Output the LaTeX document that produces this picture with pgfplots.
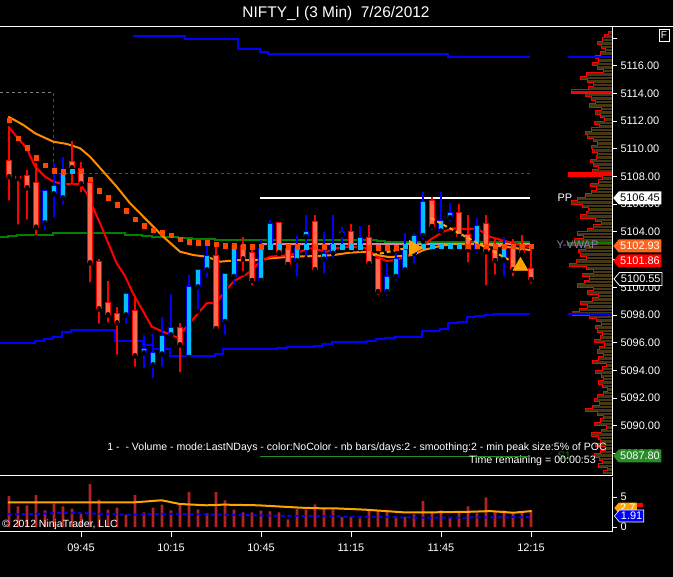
\documentclass[border=0pt]{standalone}
\usepackage{fontspec}
\setmainfont{Liberation Sans}
\usepackage{pgfplots}
\pgfplotsset{compat=1.18}
\usepackage{pgfplotstable}
\usetikzlibrary{shapes.symbols}

\definecolor{upfill}{RGB}{0,191,255}
\definecolor{upline}{RGB}{0,0,255}
\definecolor{dnfill}{RGB}{255,105,80}
\definecolor{dnline}{RGB}{255,0,0}
\definecolor{sar}{RGB}{255,69,0}
\definecolor{maorange}{RGB}{255,140,0}
\definecolor{vwapgreen}{RGB}{0,128,0}
\definecolor{yvwap}{RGB}{230,120,170}
\definecolor{volbar}{RGB}{178,34,34}
\definecolor{prof}{RGB}{70,56,20}
\definecolor{flagorange}{RGB}{255,100,30}
\definecolor{flaggreen}{RGB}{40,140,40}
\definecolor{trend}{RGB}{255,165,0}

% up candles: time in minutes after 9:00
\pgfplotstableread{
t o h l c
33 5104.69 5106.93 5104.01 5106.93
36 5106.79 5108.95 5104.91 5107.29
39 5106.50 5109.39 5105.82 5108.09
60 5098.05 5099.50 5097.23 5099.50
66 5095.31 5096.53 5094.03 5095.52
69 5094.44 5096.63 5093.31 5095.23
72 5095.23 5097.83 5094.12 5096.48
75 5096.61 5099.54 5096.43 5097.04
81 5094.97 5100.89 5094.97 5100.04
84 5100.07 5101.27 5098.24 5101.27
87 5101.30 5102.98 5100.58 5102.26
93 5097.57 5101.01 5096.43 5100.94
96 5100.82 5103.00 5100.04 5103.00
105 5100.53 5103.42 5100.53 5102.74
108 5102.82 5104.86 5102.82 5104.55
117 5101.97 5103.70 5100.62 5102.82
120 5103.70 5105.22 5102.09 5104.01
126 5102.07 5104.01 5100.84 5102.41
129 5102.50 5105.22 5102.02 5103.05
132 5103.85 5104.38 5102.93 5104.01
138 5102.82 5104.43 5102.82 5103.54
147 5099.73 5101.73 5099.21 5100.77
150 5100.82 5102.46 5100.33 5102.02
153 5101.30 5103.90 5101.25 5102.69
156 5102.50 5103.90 5101.61 5103.73
159 5103.78 5106.90 5103.29 5106.14
165 5104.09 5106.90 5104.09 5104.81
168 5105.08 5106.07 5104.62 5105.39
177 5102.77 5105.03 5102.33 5104.43
186 5102.02 5103.61 5100.65 5102.89
}\upcandles

% down candles
\pgfplotstableread{
t o h l c
21 5109.14 5111.48 5106.11 5108.02
24 5107.98 5108.05 5104.38 5107.90
27 5108.02 5108.47 5104.74 5107.22
30 5107.51 5108.95 5103.61 5104.38
42 5109.03 5110.54 5107.26 5108.67
45 5108.52 5109.03 5106.72 5107.51
48 5107.51 5107.60 5100.22 5101.81
51 5101.81 5102.02 5097.23 5098.48
54 5098.85 5100.46 5097.33 5098.05
57 5098.05 5098.56 5094.99 5097.47
63 5098.29 5099.21 5094.12 5095.09
78 5097.04 5097.40 5093.72 5095.89
90 5102.28 5102.93 5097.04 5097.04
99 5103.00 5103.61 5101.01 5102.09
102 5102.46 5103.00 5100.00 5100.53
111 5104.62 5104.69 5102.40 5102.53
114 5102.74 5102.93 5101.68 5101.68
123 5104.74 5105.22 5101.30 5101.30
135 5104.01 5104.55 5102.69 5102.93
141 5103.54 5104.50 5101.73 5101.73
144 5102.02 5102.02 5099.28 5099.73
162 5106.25 5106.50 5104.01 5104.43
171 5105.39 5106.02 5103.70 5103.70
174 5103.78 5105.22 5101.66 5102.77
180 5104.55 5105.22 5100.00 5102.62
183 5102.69 5103.51 5100.77 5101.97
189 5102.74 5103.47 5100.65 5101.30
192 5103.05 5103.78 5102.17 5102.55
195 5101.30 5103.05 5100.12 5100.60
}\dncandles

\pgfplotstableread{
t v
21 5.16
24 3.48
27 3.65
30 5.33
33 2.81
36 3.93
39 3.48
42 3.09
45 2.24
48 7.18
51 4.60
54 2.92
57 3.25
60 2.08
63 5.33
66 2.47
69 3.25
72 3.76
75 2.81
78 3.93
81 5.84
84 2.97
87 2.36
90 5.84
93 4.49
96 2.92
99 2.47
102 2.47
105 2.75
108 2.64
111 2.47
114 1.29
117 3.03
120 2.92
123 3.82
126 3.25
129 2.97
132 1.68
135 1.74
138 1.46
141 2.97
144 2.81
147 2.58
150 1.74
153 1.74
156 2.13
159 4.38
162 2.36
165 2.81
168 1.74
171 2.64
174 3.48
177 2.30
180 4.99
183 2.58
186 2.81
189 2.41
192 2.47
195 2.81
}\volume

% volume profile: bin lower edge p, length L
\pgfplotstableread{
p L
5086.50 9
5086.75 5
5087.00 14
5087.25 10
5087.50 13
5087.75 18
5088.00 12
5088.25 7
5088.50 17
5088.75 12
5089.00 14
5089.25 21
5089.50 11
5089.75 6
5090.00 18
5090.25 12
5090.50 9
5090.75 15
5091.00 27
5091.25 20
5091.50 13
5091.75 18
5092.00 15
5092.25 9
5092.50 5
5092.75 10
5093.00 14
5093.25 9
5093.50 11
5093.75 17
5094.00 10
5094.25 6
5094.50 20
5094.75 14
5095.00 9
5095.25 15
5095.50 13
5095.75 8
5096.00 18
5096.25 12
5096.50 10
5096.75 15
5097.00 17
5097.25 11
5097.50 16
5097.75 23
5098.00 40
5098.25 33
5098.50 25
5098.75 32
5099.00 20
5099.25 14
5099.50 25
5099.75 19
5100.00 35
5100.25 28
5100.50 23
5100.75 30
5101.00 19
5101.25 26
5101.50 43
5101.75 36
5102.00 26
5102.25 32
5102.50 34
5102.75 27
5103.00 45
5103.25 38
5103.50 29
5103.75 35
5104.00 25
5104.25 19
5104.50 11
5104.75 17
5105.00 32
5105.25 26
5105.50 24
5105.75 30
5106.00 41
5106.25 35
5106.50 27
5106.75 21
5107.00 16
5107.25 22
5107.50 14
5107.75 10
5108.00 44
5108.25 20
5108.50 14
5108.75 19
5109.00 22
5109.25 16
5109.50 15
5109.75 20
5110.00 21
5110.25 15
5110.50 19
5110.75 25
5111.00 27
5111.25 21
5111.50 13
5111.75 18
5112.00 8
5112.25 12
5112.50 17
5112.75 11
5113.00 23
5113.25 17
5113.50 21
5113.75 27
5114.00 41
5114.25 24
5114.50 19
5114.75 25
5115.00 32
5115.25 26
5115.50 9
5115.75 15
5116.00 20
5116.25 14
5116.50 17
5116.75 12
5117.00 7
5117.25 11
5117.50 15
5117.75 10
5118.00 8
5118.25 4
5118.50 0
}\profile

\tikzset{flag/.style={shape=signal, signal to=west, signal pointer angle=100,
  anchor=west, inner sep=1.5bp, minimum height=13bp, text depth=0pt,
  font=\fontsize{11}{11}\selectfont}}

\begin{document}
\begin{tikzpicture}
\fill[black] (0bp,0bp) rectangle (673bp,577bp);
\path[use as bounding box] (0bp,0bp) rectangle (673bp,577bp);
\coordinate (pricepos) at (0bp,101bp);
\coordinate (volpos) at (0bp,45.5bp);

% volume profile on the right of the price panel
\begin{axis}[at={(pricepos)}, anchor=south west, width=612bp, height=449bp,
  scale only axis, xmin=0, xmax=612, x dir=reverse,
  ymin=5086.38, ymax=5118.79, hide axis, clip=false]
\addplot[xbar interval, fill=prof, draw=black, line width=0.7bp] table[x=L, y=p] {\profile};
\addplot[const plot mark right, dnline, line width=1bp] table[x=L, y=p] {\profile};
\addplot[upline, line width=2bp] coordinates {(0,5116.65)(44,5116.65)};
\addplot[dnline, line width=3bp] coordinates {(0,5114.05)(41,5114.05)};
\addplot[dnline, line width=4bp] coordinates {(0,5108.20)(44,5108.20)};
\addplot[vwapgreen, line width=2.5bp] coordinates {(0,5103.20)(44,5103.20)};
\addplot[upline, line width=2bp] coordinates {(0,5098.07)(44,5098.07)};
\end{axis}

% price panel
\begin{axis}[at={(pricepos)}, anchor=south west, width=612bp, height=449bp,
  scale only axis, xmin=18, xmax=222, ymin=5086.38, ymax=5118.79,
  axis x line=none, axis y line*=right,
  axis line style={white, line width=1bp},
  ytick={5088,5090,...,5116}, extra y ticks={5118}, extra y tick labels={},
  yticklabel={\pgfmathprintnumber[fixed,fixed zerofill,precision=2,1000 sep={},assume math mode=true]{\tick}},
  tick style={white, line width=0.8bp}, tick align=outside, major tick length=5bp,
  yticklabel style={white, font=\fontsize{11}{11}\selectfont},
  clip=false]

% bands
\addplot[upline, line width=2bp, const plot] coordinates {
(62.33,5118.14)(79.67,5117.93)(97.33,5117.18)(104.67,5116.97)(107.33,5116.82)(167.33,5116.65)(194.67,5116.65)};
\addplot[upline, line width=2bp, const plot] coordinates {
(18,5096.00)(29.67,5096.14)(32.67,5096.29)(35.67,5096.43)(38.67,5096.80)(41.67,5096.90)(44.67,5096.94)
(56.33,5096.14)(65.67,5095.83)(69,5095.52)(74.67,5095.04)(89.67,5095.18)(92.33,5095.52)(110.33,5095.60)
(113.67,5095.67)(122.67,5095.76)(125.33,5095.93)(128.67,5096.03)(140.33,5096.10)(143.33,5096.29)
(146.33,5096.36)(149.67,5096.43)(158.67,5096.87)(164.67,5096.97)(167.33,5097.44)(170.67,5097.50)
(173.67,5097.88)(176.33,5097.95)(179.67,5098.02)(182.67,5098.07)(194.67,5098.07)};
\addplot[vwapgreen, line width=2bp, const plot] coordinates {
(18,5103.65)(20.67,5103.73)(23.67,5103.80)(35.67,5103.90)(38.67,5103.94)(56.33,5103.90)(59.67,5103.81)
(65.33,5103.73)(68.67,5103.65)(77.33,5103.54)(82,5103.47)(89.67,5103.42)(143.67,5103.34)(146.33,5103.30)(194.67,5103.30)};

% levels
\addplot[white, line width=2bp] coordinates {(104.67,5106.45)(194.67,5106.45)};
\addplot[yvwap, line width=2bp] coordinates {(104.67,5103.13)(194.67,5103.13)};
\addplot[flaggreen, line width=1.5bp] coordinates {(104.67,5087.80)(194.67,5087.80)};
\addplot[dnline, line width=1bp, dash pattern=on 3bp off 3bp] coordinates {(35.67,5108.18)(194.67,5108.18)};
\addplot[gray, line width=1bp, dash pattern=on 3bp off 3bp] coordinates {(18,5114.03)(35.67,5114.03)};
\addplot[dnline, line width=1bp, dash pattern=on 3bp off 3bp] coordinates {(35.67,5114.03)(35.67,5108.18)};

% moving averages
\addplot[maorange, line width=2bp, line join=round] coordinates {
(20.77,5112.32)(25.77,5111.72)(29.67,5111.12)(35.77,5110.51)(40.23,5110.35)(44.67,5110.04)(48,5109.43)
(52.43,5108.35)(56.9,5107.26)(61.33,5106.07)(65.77,5105.10)(72.43,5103.65)(78,5102.57)(82.43,5102.33)
(86.9,5102.21)(91.33,5101.85)(98,5101.97)(103,5101.97)(108,5102.09)(114.67,5102.21)(124.67,5102.26)
(129.1,5102.33)(134.67,5102.50)(140.23,5102.57)(143.57,5102.33)(148,5102.17)(151.33,5102.26)
(155.77,5102.33)(159.1,5102.69)(164.67,5102.98)(169.1,5103.13)(176.9,5103.13)(184.67,5102.98)(194.67,5102.69)};
\addplot[dnline, line width=2bp, line join=round] coordinates {
(20.77,5111.60)(23.57,5110.87)(26.9,5110.04)(29.67,5108.71)(33,5107.99)(35.77,5107.63)(39.1,5107.44)
(44.67,5107.44)(46.9,5106.79)(51.33,5104.62)(56.9,5101.73)(59.67,5100.82)(62.33,5099.57)(68.57,5097.16)
(73.57,5096.68)(77,5096.38)(80.23,5097.16)(86.9,5098.85)(89.67,5098.85)(96,5100.46)(99.67,5100.89)
(101.33,5101.13)(104.67,5101.85)(108,5102.21)(114.67,5102.33)(118,5102.57)(121.33,5102.82)(126.9,5102.57)
(130.23,5102.82)(134.67,5102.93)(140.23,5102.82)(143.57,5102.21)(146.9,5101.90)(150.23,5101.97)
(155.77,5102.46)(161.33,5103.42)(165.77,5104.02)(169.1,5104.26)(173.57,5104.19)(176.9,5104.26)
(181.33,5103.65)(185.77,5103.37)(190.23,5103.13)(194.67,5102.89)};

% candle wicks
\addplot[only marks, mark=none, error bars/.cd, y dir=plus, y explicit, error mark=none,
  error bar style={draw=upline, line width=1.2bp}]
  table[x=t, y=l, y error plus expr=\thisrow{h}-\thisrow{l}] {\upcandles};
\addplot[only marks, mark=none, error bars/.cd, y dir=plus, y explicit, error mark=none,
  error bar style={draw=dnline, line width=1.2bp}]
  table[x=t, y=l, y error plus expr=\thisrow{h}-\thisrow{l}] {\dncandles};
% candle bodies: outline then fill
\addplot[only marks, mark=none, error bars/.cd, y dir=plus, y explicit, error mark=none,
  error bar style={draw=upline, line width=6.5bp}]
  table[x=t, y expr=\thisrow{o}-0.08, y error plus expr=\thisrow{c}-\thisrow{o}+0.16] {\upcandles};
\addplot[only marks, mark=none, error bars/.cd, y dir=plus, y explicit, error mark=none,
  error bar style={draw=upfill, line width=4.5bp}]
  table[x=t, y=o, y error plus expr=\thisrow{c}-\thisrow{o}] {\upcandles};
\addplot[only marks, mark=none, error bars/.cd, y dir=plus, y explicit, error mark=none,
  error bar style={draw=dnline, line width=6.5bp}]
  table[x=t, y expr=\thisrow{c}-0.08, y error plus expr=\thisrow{o}-\thisrow{c}+0.16] {\dncandles};
\addplot[only marks, mark=none, error bars/.cd, y dir=plus, y explicit, error mark=none,
  error bar style={draw=dnfill, line width=4.5bp}]
  table[x=t, y=c, y error plus expr=\thisrow{o}-\thisrow{c}] {\dncandles};

% stop dots
\addplot[only marks, mark=square*, mark size=2.2bp, color=sar] coordinates {
(21,5112.08)(24,5110.76)(27,5110.08)(30,5109.36)(33,5108.83)(36,5108.42)(39,5108.35)(45,5108.40)
(48,5107.82)(51,5106.98)(54,5106.47)(57,5105.96)(60,5105.53)(63,5104.93)(66,5104.45)(69,5104.14)
(72,5103.94)(75,5103.78)(78,5103.49)(81,5103.29)(84,5103.22)(87,5103.22)(90,5103.13)(93,5103.00)
(96,5103.00)(99,5102.93)(102,5102.93)(105,5102.93)(114,5102.93)(117,5102.93)(123,5102.93)(126,5102.93)
(141,5102.86)(144,5102.86)(147,5102.86)(150,5102.86)(174,5102.98)(177,5102.98)(180,5102.98)
(183,5102.98)(186,5102.98)(189,5102.98)(192,5102.98)(195,5102.98)};
\addplot[only marks, mark=square*, mark size=2.2bp, color=upfill] coordinates {
(42,5108.40)(108,5102.93)(111,5102.93)(120,5102.93)(129,5102.93)(132,5102.93)(135,5102.93)(138,5102.93)
(153,5102.98)(156,5102.98)(159,5102.98)(162,5102.98)(165,5102.98)(168,5102.98)(171,5102.98)};

% trend lines and arrows
\addplot[trend, line width=2bp, dash pattern=on 4bp off 3bp] coordinates {(142.33,5102.33)(153.67,5102.84)};
\addplot[trend, line width=2bp, dash pattern=on 4bp off 3bp] coordinates {(161.67,5104.99)(189,5101.83)};
\addplot[only marks, mark=triangle*, mark size=9bp, color=trend, mark options={rotate=-90}] coordinates {(155.9,5102.84)};
\addplot[only marks, mark=triangle*, mark size=8.7bp, color=trend] coordinates {(191.5,5101.54)};
\end{axis}

% volume panel
\begin{axis}[at={(volpos)}, anchor=south west, width=612bp, height=54.5bp,
  scale only axis, xmin=18, xmax=222, ymin=-0.72, ymax=8.37,
  axis x line*=bottom, axis y line*=right,
  axis line style={white, line width=1bp},
  xtick={45,75,105,135,165,195}, xticklabels={09:45,10:15,10:45,11:15,11:45,12:15},
  ytick={0,5}, yticklabels={0,5},
  tick style={white, line width=0.8bp}, tick align=outside, major tick length=5bp,
  ticklabel style={white, font=\fontsize{11}{11}\selectfont},
  xticklabel style={yshift=-4bp},
  clip=false]
\addplot[ybar, bar width=2.6bp, fill=volbar, draw=none] table[x=t, y=v] {\volume};
\addplot[trend, line width=2bp, line join=round] coordinates {
(20.6,4.15)(62.8,4.15)(67,4.3)(71.9,4.49)(77.9,3.87)(86.8,3.65)(92.5,3.76)(104,3.65)(118.3,3.25)
(125.4,3.14)(129.7,3.14)(139.8,2.92)(152.7,2.47)(161.2,2.47)(175.6,2.58)(181.3,2.69)(189.2,2.41)(195.2,2.69)};
\addplot[upline, line width=2bp, dash pattern=on 4bp off 3bp] coordinates {
(20.6,2.13)(30,2.2)(39,2.41)(45,2.35)(61,2.08)(75,2.24)(104,1.96)(147,1.68)(161,1.57)(195.2,1.68)};
\end{axis}

% frame
\draw[white, line width=1bp] (0bp,550bp) -- (673bp,550bp);
\draw[white, line width=1bp] (0bp,101bp) -- (612bp,101bp);

% texts
\node[white, font=\fontsize{15.5}{16}\selectfont] at (336bp,563bp) {NIFTY\_I (3 Min)\ \ 7/26/2012};
\node[draw=white, line width=0.8bp, white, inner sep=0.5bp, minimum width=10bp, minimum height=12bp,
  font=\fontsize{10}{10}\selectfont] at (664bp,541.5bp) {F};
\node[white, anchor=west, font=\fontsize{11}{11}\selectfont] at (554bp,379bp) {PP};
\node[color={rgb,255:red,150;green,120;blue,190}, anchor=west, font=\fontsize{11}{11}\selectfont] at (553bp,332bp) {Y-VWAP};
\node[color={rgb,255:red,30;green,110;blue,30}, anchor=west, font=\fontsize{11}{11}\selectfont] at (554bp,121bp) {S1};
\node[white, anchor=east, font=\fontsize{10.6}{11}\selectfont, inner sep=0pt] at (607bp,129bp)
  {1 -\ \ - Volume - mode:LastNDays - color:NoColor - nb bars/days:2 - smoothing:2 - min peak size:5\% of POC};
\node[white, anchor=east, font=\fontsize{10.7}{11}\selectfont, inner sep=0pt] at (596bp,116bp) {Time remaining = 00:00:53};
\node[white, anchor=west, font=\fontsize{10.5}{11}\selectfont, inner sep=0pt] at (2bp,52bp) {\textcopyright{} 2012 NinjaTrader, LLC};

% price flags
\node[flag, fill=white, text=black] at (613bp,379bp) {5106.45};
\node[flag, fill=flagorange, text=white] at (613bp,331bp) {5102.93};
\node[flag, fill=red, text=white] at (613bp,316bp) {5101.86};
\node[flag, fill=black, draw=white, line width=0.8bp, text=white] at (613.5bp,298bp) {5100.55};
\node[flag, fill=flaggreen, text=white] at (613bp,121bp) {5087.80};
\node[flag, fill=trend, text=white, minimum height=9bp] at (614bp,69bp) {2.7};
\fill[red] (637bp,70bp) rectangle (643bp,74bp);
\node[flag, fill=upline, text=white, draw=white, line width=0.6bp, minimum height=12bp] at (614bp,61bp) {1.91};
\end{tikzpicture}
\end{document}
